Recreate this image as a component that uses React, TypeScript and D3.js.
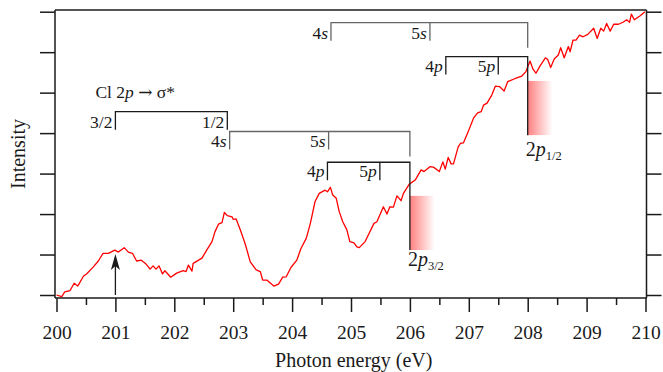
import React, { useRef, useEffect } from "react";
import * as d3 from "d3";

// photon energy (eV) and intensity (arb. units)
const energy = [
  200.0, 200.09, 200.14, 200.23, 200.3, 200.36, 200.46, 200.51, 200.63, 200.71,
  200.79, 200.88, 200.99, 201.05, 201.15, 201.22, 201.29, 201.36, 201.44, 201.51,
  201.59, 201.64, 201.69, 201.74, 201.8, 201.84, 201.94, 202.04, 202.15, 202.2,
  202.24, 202.3, 202.32, 202.47, 202.55, 202.64, 202.69, 202.75, 202.81, 202.85,
  202.9, 202.98, 203.0, 203.05, 203.12, 203.2, 203.29, 203.39, 203.46, 203.5,
  203.57, 203.69, 203.77, 203.84, 203.9, 203.98, 204.08, 204.15, 204.24, 204.31,
  204.39, 204.46, 204.56, 204.6, 204.65, 204.69, 204.75, 204.8, 204.86, 204.93,
  204.98, 205.05, 205.1, 205.14, 205.24, 205.39, 205.44, 205.55, 205.61, 205.66,
  205.72, 205.78, 205.85, 205.89, 205.99, 206.09, 206.19, 206.24, 206.34, 206.4,
  206.5, 206.56, 206.6, 206.65, 206.7, 206.74, 206.82, 206.86, 206.91, 206.98,
  207.08, 207.15, 207.21, 207.25, 207.31, 207.39, 207.45, 207.52, 207.6, 207.66,
  207.79, 207.9, 207.97, 208.04, 208.09, 208.14, 208.21, 208.3, 208.34, 208.39,
  208.45, 208.52, 208.56, 208.62, 208.69, 208.72, 208.77, 208.82, 208.88, 208.94,
  209.02, 209.12, 209.18, 209.24, 209.29, 209.34, 209.4, 209.46, 209.54, 209.62,
  209.68, 209.73, 209.76, 209.81, 209.91, 209.99,
];
const intensity = [
  0.0, -0.04, 0.08, 0.11, 0.29, 0.22, 0.47, 0.52, 0.7, 0.84,
  1.03, 1.03, 1.11, 1.06, 1.17, 1.06, 1.03, 0.84, 0.86, 0.78,
  0.64, 0.72, 0.64, 0.72, 0.52, 0.6, 0.44, 0.54, 0.6, 0.58,
  0.74, 0.59, 0.78, 0.91, 1.11, 1.32, 1.56, 1.75, 1.79, 2.04,
  1.96, 1.93, 1.87, 1.88, 1.61, 1.28, 0.82, 0.62, 0.58, 0.37,
  0.37, 0.22, 0.27, 0.44, 0.45, 0.68, 0.86, 1.15, 1.4, 1.77,
  2.31, 2.51, 2.59, 2.55, 2.66, 2.47, 2.39, 2.06, 1.81, 1.61,
  1.32, 1.29, 1.19, 1.17, 1.32, 1.77, 1.81, 2.18, 2.0, 2.18,
  2.17, 2.45, 2.33, 2.51, 2.74, 2.84, 3.09, 3.05, 3.17, 3.16,
  3.05, 3.29, 3.11, 3.4, 3.24, 3.24, 3.66, 3.75, 3.76, 4.0,
  4.37, 4.5, 4.53, 4.69, 4.74, 4.94, 5.16, 5.15, 5.04, 5.27,
  5.35, 5.41, 5.52, 5.78, 5.58, 5.48, 5.66, 5.86, 5.82, 5.62,
  5.83, 5.93, 6.11, 5.86, 6.14, 6.01, 6.3, 6.3, 6.42, 6.38,
  6.44, 6.59, 6.34, 6.59, 6.52, 6.71, 6.52, 6.69, 6.69, 6.74,
  6.8, 6.74, 6.94, 6.8, 6.9, 7.0,
];

const majorTicks = [200, 201, 202, 203, 204, 205, 206, 207, 208, 209, 210];
const minorTicks = [200.5, 201.5, 202.5, 203.5, 204.5, 205.5, 206.5, 207.5, 208.5, 209.5];
const intensityTicks = [0, 1, 2, 3, 4, 5, 6, 7];

// Cl 2p -> sigma* spin-orbit pair
const sigmaNames = ["3/2", "1/2"];
const sigmaEnergies = [201.0, 202.9];
const sigmaLevel = 4.53;

// Rydberg series for the 2p3/2 and 2p1/2 edges
const rydNames = ["4", "5"];
const lowS = [202.94, 204.62];
const lowP = [204.6, 205.49];
const highS = [204.66, 206.34];
const highP = [206.61, 207.5];
const edgeEnergies = [206.0, 208.0];
const edgeNames = ["3/2", "1/2"];
const sLevels = [4.04, 6.73];
const pLevels = [3.28, 5.89];
const edgeTops = [2.45, 5.29];
const edgeBottoms = [1.11, 3.95];
const arrowEnergy = 201.0;
const arrowTip = 1.01;

const App = () => {
  const ref = useRef<SVGSVGElement>(null);

  useEffect(() => {
    const width = 663;
    const height = 372;
    const font = "'Liberation Serif', 'DejaVu Serif', serif";
    const ink = "#1a1a1a";

    const x = d3.scaleLinear().domain([200, 210]).range([56.5, 645.5]);
    const y = d3.scaleLinear().domain([0, 7]).range([295, 11.7]);
    const left = 55, right = 646.5, top = 10, bottom = 298;

    const svg = d3.select(ref.current);
    svg.selectAll("*").remove();
    svg.attr("width", width).attr("height", height).style("font-family", font);

    const defs = svg.append("defs");
    const grad = defs.append("linearGradient").attr("id", "edgeFade").attr("x1", 0).attr("x2", 1);
    grad.append("stop").attr("offset", "0%").attr("stop-color", "#ff0000").attr("stop-opacity", 0.5);
    grad.append("stop").attr("offset", "100%").attr("stop-color", "#ff0000").attr("stop-opacity", 0);

    // frame
    svg.append("line").attr("x1", left).attr("x2", right).attr("y1", top).attr("y2", top)
      .attr("stroke", "#555").attr("stroke-width", 2);
    svg.append("line").attr("x1", left).attr("x2", left).attr("y1", top).attr("y2", bottom)
      .attr("stroke", ink).attr("stroke-width", 1.5);
    svg.append("line").attr("x1", right).attr("x2", right).attr("y1", top).attr("y2", bottom)
      .attr("stroke", ink).attr("stroke-width", 1.5);
    svg.append("line").attr("x1", left).attr("x2", right).attr("y1", bottom).attr("y2", bottom)
      .attr("stroke", ink).attr("stroke-width", 1.5);

    // axes
    const styleAxis = (g: any) => {
      g.select(".domain").remove();
      g.selectAll("line").attr("stroke", ink).attr("stroke-width", 1.5);
      g.selectAll("text").attr("fill", ink).style("font-family", font).style("font-size", "19.5px");
    };
    svg.append("g").attr("transform", `translate(0,${bottom})`)
      .call(d3.axisBottom(x).tickValues(majorTicks).tickSize(14).tickPadding(13).tickFormat(d3.format("d")))
      .call(styleAxis);
    svg.append("g").attr("transform", `translate(0,${bottom})`)
      .call(d3.axisBottom(x).tickValues(minorTicks).tickSize(7).tickFormat(() => ""))
      .call(styleAxis);
    svg.append("g").attr("transform", `translate(${left},0)`)
      .call(d3.axisLeft(y).tickValues(intensityTicks).tickSize(15).tickFormat(() => ""))
      .call(styleAxis);
    svg.append("g").attr("transform", `translate(${right},0)`)
      .call(d3.axisRight(y).tickValues(intensityTicks).tickSize(15).tickFormat(() => ""))
      .call(styleAxis);

    svg.append("text").attr("x", (left + right) / 2 + 3).attr("y", 367)
      .attr("text-anchor", "middle").attr("fill", ink).style("font-size", "20px")
      .text("Photon energy (eV)");
    svg.append("text").attr("transform", "translate(25,154) rotate(-90)")
      .attr("text-anchor", "middle").attr("fill", ink).style("font-size", "20px")
      .text("Intensity");

    // edge markers (gradient boxes)
    edgeEnergies.forEach((e, i) => {
      svg.append("rect").attr("x", x(e)).attr("y", y(edgeTops[i]))
        .attr("width", x(e + 0.42) - x(e)).attr("height", y(edgeBottoms[i]) - y(edgeTops[i]))
        .attr("fill", "url(#edgeFade)");
      const t = svg.append("text").attr("x", x(e) - 2)
        .attr("y", y(edgeBottoms[i]) + (i === 0 ? 16 : 21))
        .attr("fill", ink).style("font-size", "20px");
      t.append("tspan").text("2");
      t.append("tspan").style("font-style", "italic").text("p");
      t.append("tspan").attr("dy", 4).style("font-size", "12.5px").text(edgeNames[i]);
    });

    // spectrum
    const pts = energy.map((e, i) => [e, intensity[i]] as [number, number]);
    svg.append("path").datum(pts)
      .attr("fill", "none").attr("stroke", "#ff0000").attr("stroke-width", 1.3)
      .attr("stroke-linejoin", "round")
      .attr("d", d3.line().x(d => x(d[0])).y(d => y(d[1])));

    const tick = 18;
    const label = (xp: number, yp: number, n: string, l: string) => {
      const t = svg.append("text").attr("x", xp).attr("y", yp).attr("text-anchor", "end")
        .attr("fill", ink).style("font-size", "17.5px");
      t.append("tspan").text(n);
      if (l) t.append("tspan").style("font-style", "italic").text(l);
    };

    // sigma* bracket
    const sy = y(sigmaLevel);
    svg.append("path")
      .attr("d", `M${x(sigmaEnergies[0])},${sy + tick}V${sy}H${x(sigmaEnergies[1])}V${sy + tick}`)
      .attr("fill", "none").attr("stroke", ink).attr("stroke-width", 1.3);
    sigmaEnergies.forEach((e, i) => label(x(e) - 3, sy + 16, sigmaNames[i], ""));
    const cap = svg.append("text").attr("x", x(sigmaEnergies[0]) - 20).attr("y", sy - 14)
      .attr("fill", ink).style("font-size", "17.5px");
    cap.append("tspan").text("Cl 2");
    cap.append("tspan").style("font-style", "italic").text("p");
    cap.append("tspan").text(" ");
    cap.append("tspan").style("font-family", "'DejaVu Serif', serif").style("font-size", "17px").text("\u2192");
    cap.append("tspan").text(" \u03c3*");

    // Rydberg brackets
    [[lowS, lowP], [highS, highP]].forEach(([sE, pE], i) => {
      const edge = x(edgeEnergies[i]);
      const ys = y(sLevels[i]);
      const yp = y(pLevels[i]);
      svg.append("path")
        .attr("d", `M${x(sE[0])},${ys + tick}V${ys}H${edge}V${ys + tick + 7}M${x(sE[1])},${ys}V${ys + tick}`)
        .attr("fill", "none").attr("stroke", "#666").attr("stroke-width", 1.3);
      svg.append("path")
        .attr("d", `M${x(pE[0])},${yp + tick}V${yp}H${edge}V${y(edgeBottoms[i])}M${x(pE[1])},${yp}V${yp + tick}`)
        .attr("fill", "none").attr("stroke", ink).attr("stroke-width", 1.3);
      sE.forEach((e, k) => label(x(e) - 3, ys + 16, rydNames[k], "s"));
      pE.forEach((e, k) => label(x(e) - 3, yp + 15, rydNames[k], "p"));
    });

    // arrow at the sigma* peak
    const ax = x(arrowEnergy);
    svg.append("line").attr("x1", ax).attr("x2", ax).attr("y1", y(0)).attr("y2", y(arrowTip) + 8)
      .attr("stroke", ink).attr("stroke-width", 1.3);
    const at = y(arrowTip);
    svg.append("path")
      .attr("d", `M${ax},${at}L${ax + 4.5},${at + 16}L${ax},${at + 12}L${ax - 4.5},${at + 16}Z`)
      .attr("fill", ink);
  }, []);

  return <svg ref={ref} style={{ position: "absolute", left: 0, top: 0 }} />;
};

export default App;
